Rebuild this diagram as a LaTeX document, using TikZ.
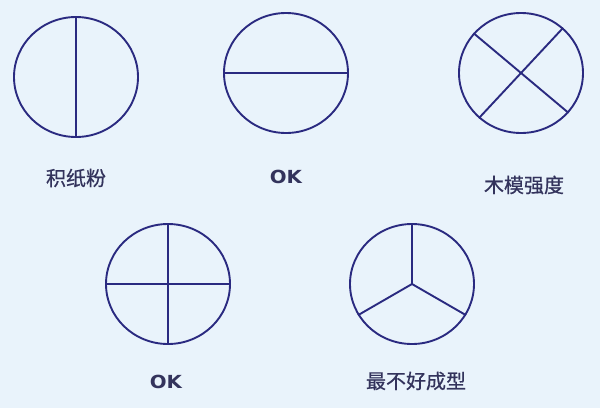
\documentclass[tikz,border=0pt]{standalone}
\usepackage{fontspec}
\newfontfamily\cjk[FakeBold=0.6]{Noto Sans CJK SC}
\newfontfamily\oksans{DejaVu Sans}
\usetikzlibrary{shapes.geometric}
\definecolor{bg}{HTML}{E9F3FB}
\definecolor{ink}{HTML}{2A2A80}
\definecolor{txt}{HTML}{33335C}
\tikzset{
  disc/.style={ellipse, draw=ink, line width=1.9pt, minimum width=124pt, minimum height=120pt, inner sep=0pt},
  div/.style={draw=ink, line width=1.9pt},
  cjklabel/.style={text=txt, font=\cjk\fontsize{20}{22}\selectfont, inner sep=0pt},
  oklabel/.style={text=txt, font=\oksans\bfseries\fontsize{18}{20}\selectfont, inner sep=0pt, xscale=1.1}
}
\begin{document}
\begin{tikzpicture}[x=1pt,y=-1pt]
\useasboundingbox (0,0) rectangle (600,408);
\fill[bg] (0,0) rectangle (600,408);
% circles
\node[disc] (c1) at (76,77) {};
\node[disc] (c2) at (286,73) {};
\node[disc] (c3) at (521,73) {};
\node[disc] (c4) at (168,284) {};
\node[disc] (c5) at (412,284) {};
% dividers
\draw[div] (c1.north) -- (c1.south);
\draw[div] (c2.west) -- (c2.east);
\draw[div] (c3.140) -- (c3.-40);
\draw[div] (c3.47) -- (c3.227);
\draw[div] (c4.north) -- (c4.south);
\draw[div] (c4.west) -- (c4.east);
\draw[div] (c5.north) -- (c5.center);
\draw[div] (c5.center) -- (c5.210);
\draw[div] (c5.center) -- (c5.330);
% labels
\node[cjklabel] (l1) at (76,178) {积纸粉};
\node[oklabel] (l2) at (286,177) {OK};
\node[cjklabel] (l3) at (524,185) {木模强度};
\node[oklabel] (l4) at (166,382) {OK};
\node[cjklabel] (l5) at (416,381) {最不好成型};
\end{tikzpicture}
\end{document}
